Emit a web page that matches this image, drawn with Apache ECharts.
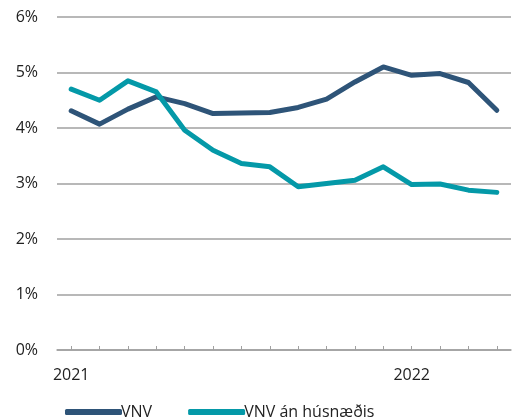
<!DOCTYPE html>
<html>
<head>
<meta charset="utf-8">
<script src="https://cdn.jsdelivr.net/npm/echarts@6/dist/echarts.min.js"></script>
<style>
html,body{margin:0;padding:0;background:#fff;}
#c{width:518px;height:418px;}
</style>
</head>
<body>
<div id="c"></div>
<script>
var months = ['2021-01','2021-02','2021-03','2021-04','2021-05','2021-06','2021-07','2021-08','2021-09','2021-10','2021-11','2021-12','2022-01','2022-02','2022-03','2022-04'];
var yearTickLabels = {'2021-01':'2021','2022-01':'2022'};
var vnv = [4.31, 4.07, 4.34, 4.56, 4.44, 4.26, 4.27, 4.28, 4.37, 4.52, 4.83, 5.10, 4.95, 4.98, 4.82, 4.32];
var vnvAnHusnaedis = [4.70, 4.50, 4.85, 4.65, 3.96, 3.60, 3.36, 3.30, 2.94, 3.00, 3.06, 3.30, 2.98, 2.99, 2.88, 2.84];
var seriesNames = ['VNV', 'VNV án húsnæðis'];

var font = 'Open Sans';
var chart = echarts.init(document.getElementById('c'), null, {renderer:'canvas'});
chart.setOption({
  animation:false,
  backgroundColor:'#ffffff',
  grid:{left:57, right:7, top:17, bottom:68, containLabel:false},
  legend:{
    bottom:-7, left:60,
    itemWidth:57, itemHeight:6, itemGap:36,
    icon:'roundRect',
    textStyle:{fontFamily:font, fontSize:16, color:'#222', padding:[0,0,0,-6]},
    data:seriesNames
  },
  xAxis:{
    type:'category',
    data:months,
    boundaryGap:true,
    axisLine:{lineStyle:{color:'#a0a0a0', width:1.5}},
    axisTick:{show:true, inside:true, length:4, alignWithLabel:true, interval:0, lineStyle:{color:'#a0a0a0', width:1}},
    axisLabel:{interval:0, margin:17, fontFamily:font, fontSize:16, color:'#222',
      formatter:function(v){return yearTickLabels[v] || '';}},
    splitLine:{show:false}
  },
  yAxis:{
    type:'value', min:0, max:6, interval:1,
    axisLine:{show:false}, axisTick:{show:false},
    axisLabel:{margin:19, fontFamily:font, fontSize:16, color:'#222', formatter:'{value}%'},
    splitLine:{lineStyle:{color:'#a0a0a0', width:1.5}}
  },
  series:[
    {name:seriesNames[0], type:'line', data:vnv, showSymbol:false, symbol:'none',
      color:'#2e5478', lineStyle:{width:5, color:'#2e5478', cap:'round', join:'round'}},
    {name:seriesNames[1], type:'line', data:vnvAnHusnaedis, showSymbol:false, symbol:'none',
      color:'#0499a8', lineStyle:{width:5, color:'#0499a8', cap:'round', join:'round'}}
  ]
});
</script>
</body>
</html>
